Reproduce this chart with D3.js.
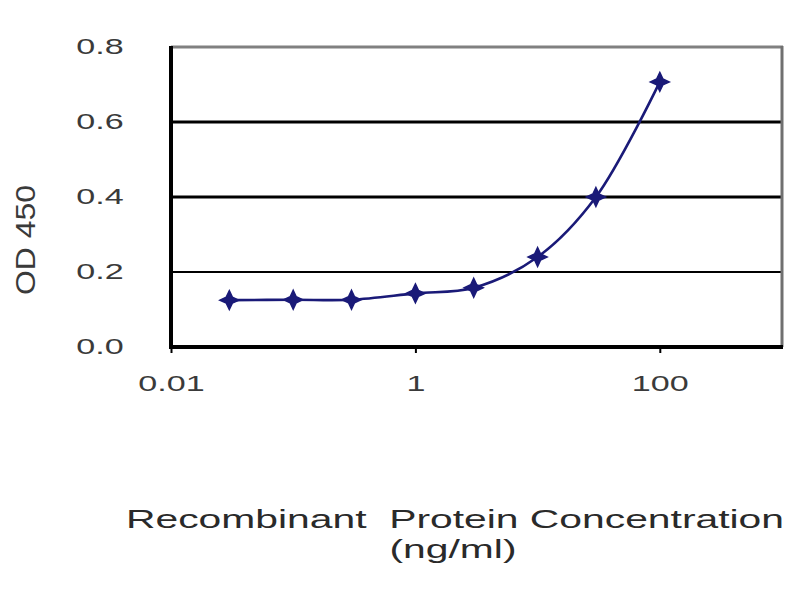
<!DOCTYPE html>
<html>
<head>
<meta charset="utf-8">
<script src="https://cdn.jsdelivr.net/npm/d3@7"></script>
<style>
  html, body { margin: 0; padding: 0; background: #fff; }
  svg { display: block; }
</style>
</head>
<body>
<svg id="chart" width="800" height="600"></svg>
<script>
// ---- data ----
const concentrations = [0.03, 0.1, 0.3, 1, 3, 10, 30, 100];
const odValues = [0.125, 0.126, 0.126, 0.143, 0.158, 0.240, 0.400, 0.707];
const xTickValues = [0.01, 1, 100];
const xTickLabels = ["0.01", "1", "100"];
const yTickValues = [0.0, 0.2, 0.4, 0.6, 0.8];
const yTickLabels = ["0.0", "0.2", "0.4", "0.6", "0.8"];
const xTitleLines = ["Recombinant  Protein Concentration", "(ng/ml)"];
const yTitle = "OD 450";

const svg = d3.select("#chart");
const font = "'Liberation Sans', Arial, sans-serif";

const pLeft = 171, pRight = 782, pTop = 47, pBottom = 347;
const x = d3.scaleLog().domain([0.01, 1000]).range([pLeft, pRight]);
const y = d3.scaleLinear().domain([0, 0.8]).range([pBottom, pTop]);

// gridlines (0.2, 0.4, 0.6)
const gridWidths = {0.2: 2, 0.4: 3, 0.6: 3};
svg.append("g").selectAll("line")
  .data(yTickValues.filter(v => v > 0 && v < 0.8))
  .join("line")
  .attr("x1", pLeft).attr("x2", pRight)
  .attr("y1", d => y(d)).attr("y2", d => y(d))
  .attr("stroke", "#000")
  .attr("stroke-width", d => gridWidths[d]);

// top and right frame (gray)
svg.append("line").attr("x1", pLeft).attr("x2", pRight + 1)
  .attr("y1", y(0.8)).attr("y2", y(0.8))
  .attr("stroke", "#808080").attr("stroke-width", 3);
svg.append("line").attr("x1", pRight).attr("x2", pRight)
  .attr("y1", y(0.8) - 1).attr("y2", pBottom)
  .attr("stroke", "#707070").attr("stroke-width", 3);

// x axis
const xAxis = d3.axisBottom(x)
  .tickValues(xTickValues)
  .tickSize(6)
  .tickFormat((d, i) => xTickLabels[i]);
const gx = svg.append("g").attr("transform", `translate(0,${pBottom})`).call(xAxis);
gx.select(".domain").remove();
gx.selectAll(".tick line").attr("stroke", "#000").attr("stroke-width", 2);
gx.selectAll(".tick text")
  .attr("y", 0)
  .attr("dy", 0)
  .attr("font-family", font)
  .attr("font-size", 22)
  .attr("fill", "#3a3a3a")
  .attr("text-anchor", "middle")
  .attr("transform", "translate(0,44) scale(1.55,1)");

// y axis
const yAxis = d3.axisLeft(y)
  .tickValues(yTickValues)
  .tickSize(0)
  .tickFormat((d, i) => yTickLabels[i]);
const gy = svg.append("g").attr("transform", `translate(${pLeft},0)`).call(yAxis);
gy.select(".domain").remove();
gy.selectAll(".tick text")
  .attr("x", 0)
  .attr("dy", 0)
  .attr("font-family", font)
  .attr("font-size", 22)
  .attr("fill", "#3a3a3a")
  .attr("text-anchor", "middle")
  .attr("transform", "translate(-71,6) scale(1.55,1)");

// left & bottom axis lines (thick black)
svg.append("line").attr("x1", pLeft).attr("x2", pLeft)
  .attr("y1", pTop - 1).attr("y2", pBottom + 2)
  .attr("stroke", "#000").attr("stroke-width", 4);
svg.append("line").attr("x1", pLeft - 2).attr("x2", pRight + 1)
  .attr("y1", pBottom).attr("y2", pBottom)
  .attr("stroke", "#000").attr("stroke-width", 4);

// data line
const navy = "#1a1a78";
const line = d3.line()
  .x((d, i) => x(concentrations[i]))
  .y(d => y(d))
  .curve(d3.curveCatmullRom.alpha(0.5));
svg.append("path")
  .datum(odValues)
  .attr("d", line)
  .attr("fill", "none")
  .attr("stroke", navy)
  .attr("stroke-width", 2.6);

// markers: four-pointed star
const starSymbol = {
  draw(ctx, size) {
    const r = Math.sqrt(size);
    const w = r * 0.32;
    ctx.moveTo(0, -r);
    ctx.lineTo(w, -w);
    ctx.lineTo(r, 0);
    ctx.lineTo(w, w);
    ctx.lineTo(0, r);
    ctx.lineTo(-w, w);
    ctx.lineTo(-r, 0);
    ctx.lineTo(-w, -w);
    ctx.closePath();
  }
};
svg.append("g").selectAll("path")
  .data(odValues)
  .join("path")
  .attr("transform", (d, i) => `translate(${x(concentrations[i])},${y(d)})`)
  .attr("d", d3.symbol().type(starSymbol).size(90))
  .attr("fill", navy)
  .attr("stroke", navy)
  .attr("stroke-width", 1.5);

// y title
svg.append("text")
  .attr("transform", "translate(35,240) rotate(-90)")
  .attr("text-anchor", "middle")
  .attr("font-family", font)
  .attr("font-size", 27)
  .attr("fill", "#3a3a3a")
  .attr("textLength", 110)
  .attr("lengthAdjust", "spacingAndGlyphs")
  .text(yTitle);

// x title
svg.append("text")
  .attr("x", 455).attr("y", 528)
  .attr("text-anchor", "middle")
  .attr("font-family", font)
  .attr("font-size", 25)
  .attr("fill", "#2a2a2a")
  .attr("textLength", 658)
  .attr("lengthAdjust", "spacingAndGlyphs")
  .style("white-space", "pre")
  .text(xTitleLines[0]);
svg.append("text")
  .attr("x", 453).attr("y", 558)
  .attr("text-anchor", "middle")
  .attr("font-family", font)
  .attr("font-size", 25)
  .attr("fill", "#2a2a2a")
  .attr("textLength", 127)
  .attr("lengthAdjust", "spacingAndGlyphs")
  .text(xTitleLines[1]);
</script>
</body>
</html>
